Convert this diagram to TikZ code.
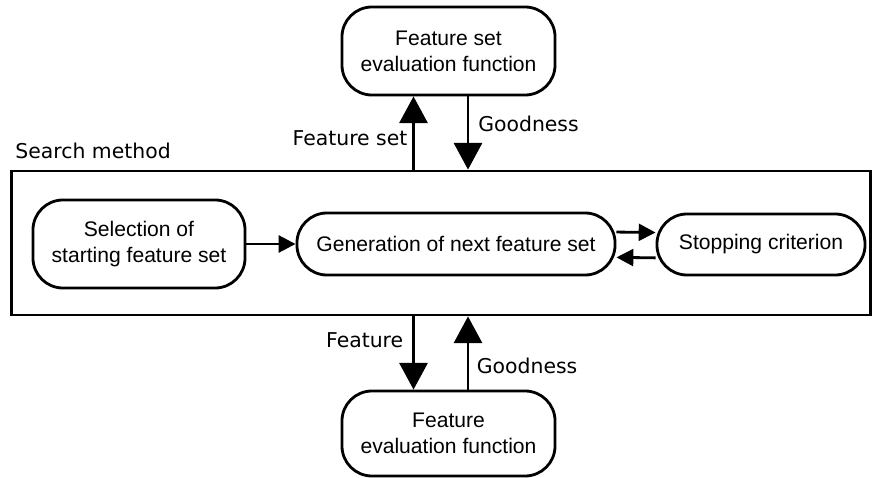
\documentclass[tikz,border=0pt]{standalone}
\usepackage{fontspec}
\setmainfont{Liberation Sans}
\newfontfamily\labelfont{DejaVu Sans}
\usetikzlibrary{arrows.meta, positioning, calc}

\begin{document}
\begin{tikzpicture}[
    x=0.025cm, y=-0.025cm,
    % Node styles
    stage/.style={
        rectangle,
        draw=black,
        fill=white,
        line width=2pt,
        rounded corners=0.75cm,
        minimum width=#1,
        align=center,
        inner sep=0pt,
        font=\fontsize{15}{18.5}\selectfont
    },
    frame/.style={
        rectangle,
        draw=black,
        line width=2pt,
        minimum width=21.45cm,
        minimum height=3.6cm
    },
    tag/.style={
        font=\labelfont\fontsize{14.5}{17}\selectfont
    },
    arrow/.style={
        -{Triangle[length=19pt,width=20pt]},
        line width=2pt
    },
    small_arrow/.style={
        -{Triangle[length=12pt,width=12pt]},
        line width=2pt
    }
]
\useasboundingbox (0,0) rectangle (872,478);

% Position nodes
\node[frame] (search) at (441,243) {};
\node[tag, anchor=south west, yshift=4pt] (searchLabel) at (search.north west) {Search method};

\node[stage=5.325cm, minimum height=2.2cm] (setEval) at (448.5,51) {Feature set \\ evaluation function};

\node[stage=5.3cm, minimum height=2.2cm] (start) at (139,244) {Selection of \\ starting feature set};

\node[stage=7.95cm, minimum height=1.55cm] (gen) at (456,244) {Generation of next feature set};

\node[stage=5.2cm, minimum height=1.525cm] (stop) at (761,244.5) {Stopping criterion};

\node[stage=5.325cm, minimum height=2.125cm] (featEval) at (448.5,433.5) {Feature \\ evaluation function};

\coordinate (outX) at (413.5,0);
\coordinate (inX) at (468,0);

% draw arrows
\draw[arrow] (outX |- search.north) -- node[pos=0.43, left, tag] {Feature set} (outX |- setEval.south);

\draw[arrow] (inX |- setEval.south) -- node[pos=0.37, right, xshift=3pt, tag] {Goodness} (inX |- search.north);

\draw[arrow] (outX |- search.south) -- node[pos=0.33, left, xshift=-3pt, tag] {Feature} (outX |- featEval.north);

\draw[arrow] (inX |- featEval.north) -- node[pos=0.32, right, xshift=2pt, tag] {Goodness} (inX |- search.south);

\draw[small_arrow] (start.east) -- (gen.west);

\draw[small_arrow] ([yshift=8.5pt]gen.east) -- ([yshift=8.5pt]stop.west);
\draw[small_arrow] ([yshift=-9.5pt]stop.west) -- ([yshift=-9.5pt]gen.east);

\end{tikzpicture}
\end{document}
